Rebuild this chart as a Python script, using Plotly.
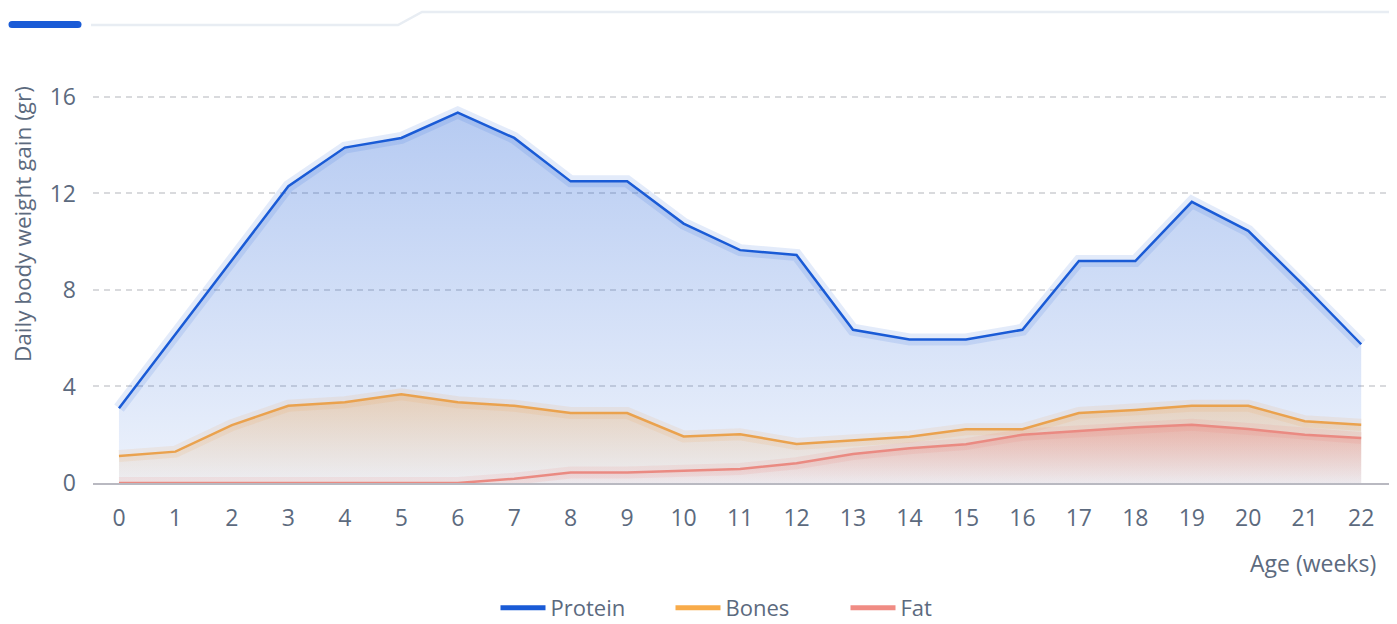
import plotly.graph_objects as go

weeks = list(range(23))
protein = [3.1, 6.15, 9.2, 12.3, 13.9, 14.3, 15.35, 14.3, 12.5, 12.5, 10.75, 9.65,
           9.45, 6.35, 5.95, 5.95, 6.35, 9.2, 9.2, 11.65, 10.45, 8.15, 5.75]
bones = [1.12, 1.3, 2.4, 3.2, 3.35, 3.68, 3.35, 3.2, 2.9, 2.9, 1.93, 2.02,
         1.62, 1.77, 1.92, 2.23, 2.23, 2.9, 3.03, 3.2, 3.2, 2.56, 2.41]
fat = [0, 0, 0, 0, 0, 0, 0, 0.18, 0.43, 0.43, 0.51, 0.58,
       0.82, 1.2, 1.44, 1.61, 2.0, 2.17, 2.31, 2.41, 2.24, 2.0, 1.86]

series_names = ["Protein", "Bones", "Fat"]
y_ticks = [0, 4, 8, 12, 16]

line_colors = {"Protein": "#1a5bd6", "Bones": "#eaa24e", "Fat": "#ea8a82"}
legend_colors = {"Protein": "#1a5bd6", "Bones": "#f8ab4a", "Fat": "#f08c84"}
rgb = {"Protein": "26,91,214", "Bones": "240,160,70", "Fat": "235,120,112"}
fill_alpha = {"Protein": (0.08, 0.32), "Bones": (0.05, 0.35), "Fat": (0.04, 0.38)}

TEXT = "#5c6a7e"
FONT = "Open Sans"
FS = 23

fig = go.Figure()
data = {"Protein": protein, "Bones": bones, "Fat": fat}
for name in series_names:
    vals = data[name]
    lo, hi = fill_alpha[name]
    fig.add_trace(go.Scatter(
        x=weeks, y=vals, mode="lines",
        line=dict(color=f"rgba({rgb[name]},0.12)", width=12),
        showlegend=False, hoverinfo="skip"))
    fig.add_trace(go.Scatter(
        x=weeks, y=vals, mode="lines", name=name,
        line=dict(color=line_colors[name], width=2.5),
        fill="tozeroy",
        fillgradient=dict(
            type="vertical",
            colorscale=[[0, f"rgba({rgb[name]},{lo})"], [1, f"rgba({rgb[name]},{hi})"]],
            start=0, stop=max(vals)),
        showlegend=False))

for name in series_names:
    fig.add_trace(go.Scatter(
        x=[None], y=[None], mode="lines", name=name,
        line=dict(color=legend_colors[name], width=5)))

OFF = 8  # page body margin
W, H = 1397 - OFF, 624 - OFF
L, R, T, B = 93 - OFF, 7, 60 - OFF, 141
pw, ph = W - L - R, H - T - B

def px(xs):
    return (xs - OFF - L) / pw

def py(ys):
    return (H - B - (ys - OFF)) / ph

shapes = [
    dict(type="rect", xref="paper", yref="paper", x0=px(12), x1=px(78), y0=py(28), y1=py(21),
         fillcolor="#1a5bd6", line=dict(width=0), layer="above"),
    dict(type="circle", xref="paper", yref="paper", xsizemode="pixel", ysizemode="pixel",
         xanchor=px(12), yanchor=py(24.5), x0=-3.5, x1=3.5, y0=-3.5, y1=3.5,
         fillcolor="#1a5bd6", line=dict(width=0)),
    dict(type="circle", xref="paper", yref="paper", xsizemode="pixel", ysizemode="pixel",
         xanchor=px(78), yanchor=py(24.5), x0=-3.5, x1=3.5, y0=-3.5, y1=3.5,
         fillcolor="#1a5bd6", line=dict(width=0)),
    dict(type="path", xref="paper", yref="paper",
         path=f"M {px(91)},{py(25)} L {px(398)},{py(25)} L {px(422)},{py(12)} L {px(1390)},{py(12)}",
         line=dict(color="#e8edf3", width=2.5)),
]

fig.update_layout(
    width=W, height=H,
    margin=dict(l=L, r=R, t=T, b=B, autoexpand=False),
    paper_bgcolor="white", plot_bgcolor="white",
    font=dict(family=FONT, color=TEXT, size=FS),
    shapes=shapes,
    showlegend=True,
    legend=dict(orientation="h", x=px(758), xanchor="center", y=py(608), yanchor="middle",
                font=dict(size=22, color=TEXT, family=FONT), entrywidth=115, itemwidth=45,
                traceorder="normal"),
    xaxis=dict(range=[-0.46, 22.51], tickvals=weeks, ticktext=[str(w) for w in weeks],
               showgrid=False, zeroline=False, showline=True, linecolor="#b9b9c1",
               linewidth=2, ticks="", ticklabelstandoff=13, automargin=False,
               tickfont=dict(size=FS, color=TEXT, family=FONT)),
    yaxis=dict(range=[0, 17.53], tickvals=y_ticks, showgrid=True, gridcolor="#d9dadd",
               gridwidth=1.5, griddash="6px,5px", zeroline=False, showline=False,
               ticks="", ticklabelstandoff=16, automargin=False,
               tickfont=dict(size=FS, color=TEXT, family=FONT)),
    annotations=[
        dict(text="Daily body weight gain (gr)", xref="paper", yref="paper",
             x=0, y=py(224), xshift=-(93 - 22), xanchor="center", yanchor="middle",
             textangle=-90, showarrow=False, font=dict(size=22.5, color=TEXT, family=FONT)),
        dict(text="Age (weeks)", xref="paper", yref="paper", x=px(1378), y=py(563),
             xanchor="right", yanchor="middle", showarrow=False,
             font=dict(size=FS, color=TEXT, family=FONT)),
    ],
)

fig.write_html("out.html")
